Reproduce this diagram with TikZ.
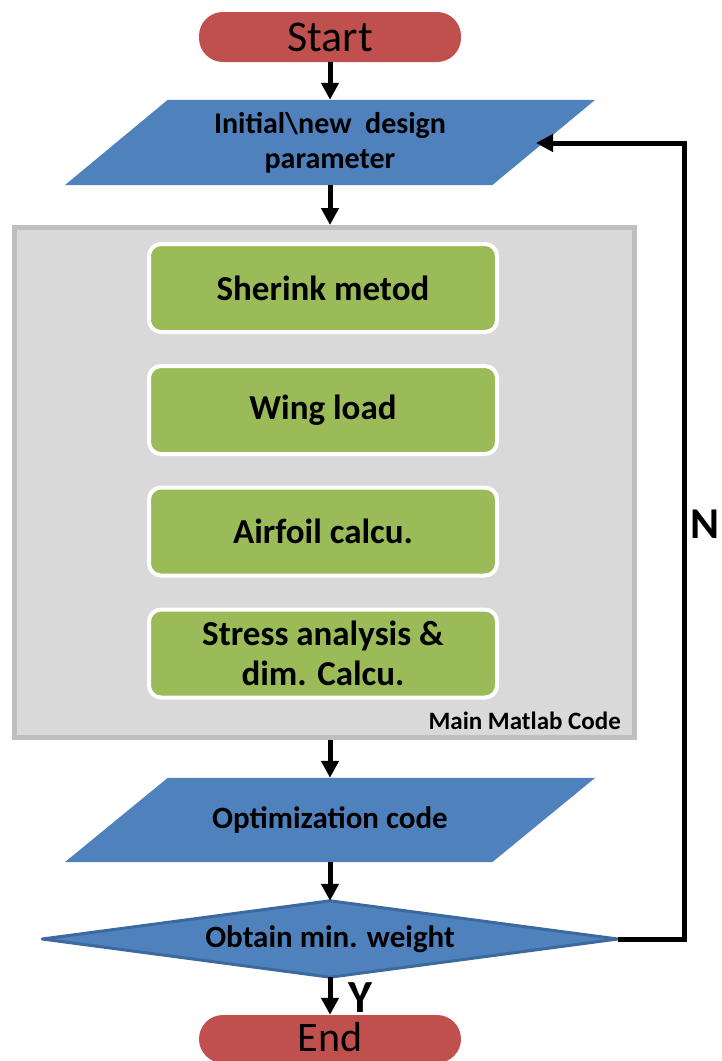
\documentclass[tikz,border=0pt]{standalone}
\usepackage{fontspec}
\setmainfont{Carlito}
\usetikzlibrary{arrows.meta,calc}
\definecolor{cred}{HTML}{C0504D}
\definecolor{cblue}{HTML}{4F81BD}
\definecolor{cbluedark}{HTML}{3C6A9E}
\definecolor{cgreen}{HTML}{9BBB59}
\definecolor{cgray}{HTML}{D9D9D9}
\definecolor{cgrayb}{HTML}{BFBFBF}
\tikzset{
  pill/.style={shape=rectangle, rounded corners=24pt, fill=cred, minimum width=262, minimum height=50, inner sep=0pt, font=\fontsize{44}{48}\selectfont},
  anchorbox/.style={shape=rectangle, inner sep=0pt, draw=none},
  greenbox/.style={shape=rectangle, rounded corners=12pt, fill=cgreen, draw=white, line width=4pt, minimum width=348, minimum height=88, inner sep=0pt, align=center, font=\fontsize{35}{40}\selectfont\bfseries},
  bluetext/.style={inner sep=0pt, align=center, font=\fontsize{30}{35}\selectfont\bfseries},
  arr/.style={line width=5pt, -{Triangle[length=17pt,width=17pt]}},
}
\begin{document}
\begin{tikzpicture}[x=1pt,y=-1pt]
\useasboundingbox (0,0) rectangle (721,1061);

% Start
\node[pill] (start) at (330,37) {Start};

% parallelogram 1
\node[anchorbox, minimum width=530, minimum height=85] (p1) at (330,142.5) {};
\fill[cblue] ($(p1.north west)+(103,0)$) -- (p1.north east) -- ($(p1.south east)+(-103,0)$) -- (p1.south west) -- cycle;
\node[bluetext] (p1t) at (p1.center) {Initial\textbackslash new\ \ design\\parameter};

% main box
\node[shape=rectangle, fill=cgray, draw=cgrayb, line width=5pt, minimum width=620, minimum height=510, inner sep=0pt] (main) at (324.5,482.5) {};
\node[greenbox] (g1) at (323,288) {Sherink metod};
\node[greenbox] (g2) at (323,410) {Wing load};
\node[greenbox] (g3) at (323,531.5) {Airfoil calcu.};
\node[greenbox] (g4) at (323,653.5) {Stress analysis \&\\dim. Calcu.};
\node[anchor=east, inner sep=0pt, font=\fontsize{25}{28}\selectfont\bfseries] (mlab) at (621,721) {Main Matlab Code};

% parallelogram 2
\node[anchorbox, minimum width=530, minimum height=84] (p2) at (330,820) {};
\fill[cblue] ($(p2.north west)+(103,0)$) -- (p2.north east) -- ($(p2.south east)+(-103,0)$) -- (p2.south west) -- cycle;
\node[bluetext, font=\fontsize{31}{35}\selectfont\bfseries] (p2t) at (p2.center) {Optimization code};

% decision
\node[anchorbox, minimum width=575, minimum height=76] (dia) at (330,939) {};
\filldraw[fill=cblue, draw=cbluedark, line width=3pt, line join=round] (dia.north) -- (dia.east) -- (dia.south) -- (dia.west) -- cycle;
\node[bluetext, font=\fontsize{31}{35}\selectfont\bfseries] (diat) at (dia.center) {Obtain min. weight};

% End
\node[pill, minimum height=48] (end) at (330,1039) {};
\node[inner sep=0pt, font=\fontsize{42}{46}\selectfont] (endt) at (330,1037) {End};

% arrows
\draw[arr] (start.south) -- (start.south |- p1.north);
\draw[arr] (p1.south) -- (p1.south |- main.north);
\draw[arr] (p2.north |- main.south) -- (p2.north);
\draw[arr] (p2.south) -- (dia.north);
\draw[arr] (dia.south) -- (end.north);

% loop
\coordinate (turn) at (684,143);
\coordinate (p1in) at (536,143);
\draw[arr, line join=miter] (dia.east) -| (turn) -- (p1in);

\node[inner sep=0pt, font=\fontsize{46}{50}\selectfont\bfseries] (ylab) at (360,998) {Y};
\node[anchor=east, inner sep=0pt, font=\fontsize{44}{48}\selectfont\bfseries] (nlab) at (720,524) {N};
\end{tikzpicture}
\end{document}
